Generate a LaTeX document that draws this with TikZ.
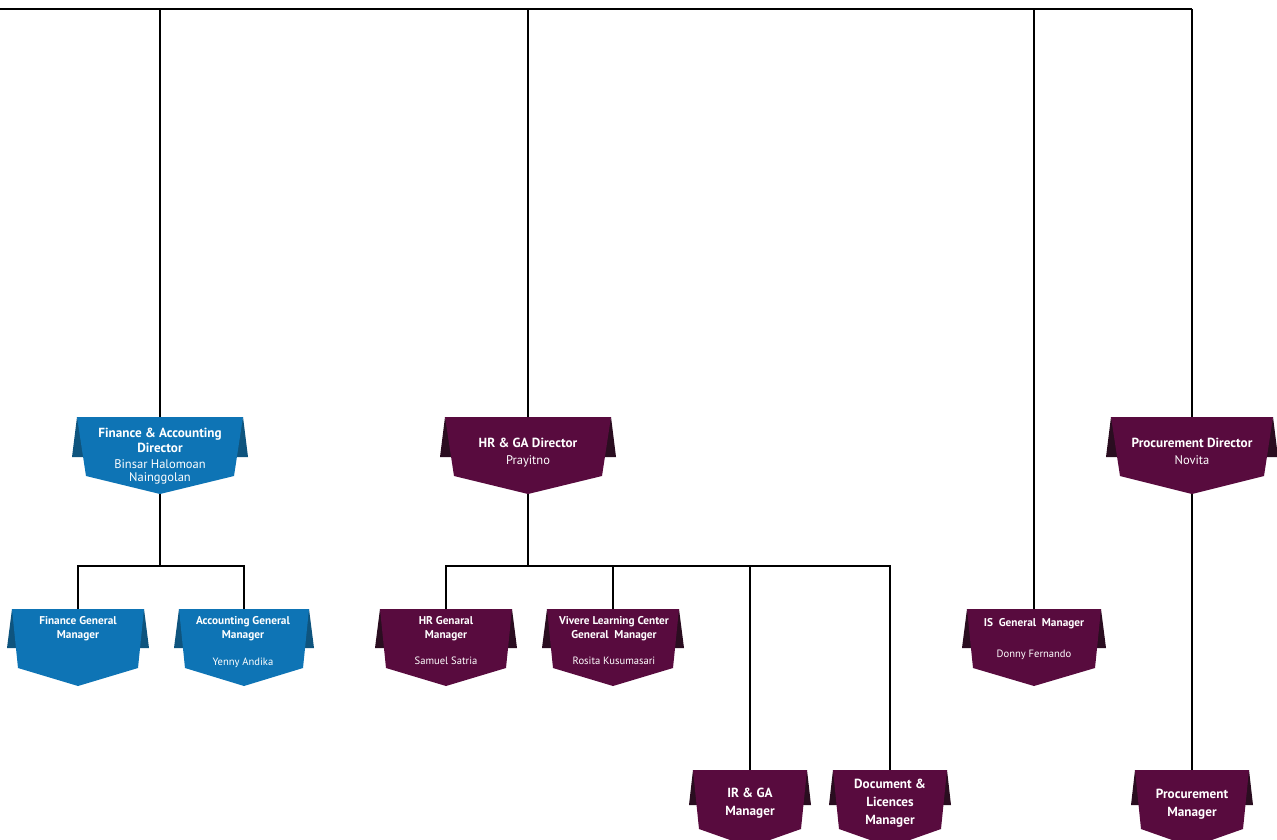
\documentclass[tikz,border=0pt]{standalone}
\usepackage{fontspec}
\setmainfont{PT Sans}
\definecolor{bluebody}{RGB}{14,116,181}
\definecolor{blueear}{RGB}{14,84,126}
\definecolor{purplebody}{RGB}{88,11,62}
\definecolor{purpleear}{RGB}{42,13,32}
% #1 name, #2 cx, #3 ytop, #4 half width, #5 inset, #6 fill, #7 ear, #8 ear out, #9 ear down
\newcommand{\orgshape}[9]{%
  \fill[#7] (#2-#4,#3) -- (#2-#4-#8,#3+#9) -- (#2-#4+10,#3+#9) -- cycle;
  \fill[#7] (#2+#4,#3) -- (#2+#4+#8,#3+#9) -- (#2+#4-10,#3+#9) -- cycle;
  \fill[#6] (#2-#4,#3) -- (#2+#4,#3) -- (#2+#4-#5,#3+59) -- (#2,#3+77) -- (#2-#4+#5,#3+59) -- cycle;
  \coordinate (#1-top) at (#2,#3);
  \coordinate (#1-bot) at (#2,#3+77);
}
\begin{document}
\begin{tikzpicture}[x=1pt,y=-1pt,
  conn/.style={draw=black,line width=1.6pt},
  dtitle/.style={anchor=north,inner sep=0pt,align=center,text=white,font=\bfseries\fontsize{13.2}{15}\selectfont},
  dname/.style={anchor=north,inner sep=0pt,align=center,text=white,font=\fontsize{12.5}{13}\selectfont},
  mtitle/.style={anchor=north,inner sep=0pt,align=center,text=white,font=\bfseries\fontsize{11.3}{14}\selectfont},
  mname/.style={anchor=north,inner sep=0pt,align=center,text=white,font=\fontsize{10.6}{13}\selectfont},
  btitle/.style={anchor=north,inner sep=0pt,align=center,text=white,font=\bfseries\fontsize{13.2}{18}\selectfont}]
\fill[white] (0,0) rectangle (1277,840);
\useasboundingbox (0,0) rectangle (1277,840);
\begin{scope}
\clip (0,0) rectangle (1277,840);
% connectors
\coordinate (topleft) at (0,9);
\coordinate (jfad) at (160,9);
\coordinate (jhrd) at (528,9);
\coordinate (jigm) at (1034,9);
\coordinate (jprd) at (1192,9);
\coordinate (famid) at (160,566);
\coordinate (hrmid) at (528,566);
% shapes
\orgshape{fad}{160}{417}{83}{9}{bluebody}{blueear}{5}{40}
\orgshape{hrd}{528}{417}{83}{9}{purplebody}{purpleear}{5}{40}
\orgshape{prd}{1192}{417}{81}{9}{purplebody}{purpleear}{5}{40}
\orgshape{fgm}{78}{609}{66}{6}{bluebody}{blueear}{5}{39}
\orgshape{agm}{244}{609}{65}{6}{bluebody}{blueear}{5}{39}
\orgshape{hgm}{446}{609}{66}{6}{purplebody}{purpleear}{5}{39}
\orgshape{vgm}{613}{609}{66}{6}{purplebody}{purpleear}{5}{39}
\orgshape{igm}{1034}{609}{67}{6}{purplebody}{purpleear}{5}{39}
\orgshape{ir}{750}{770}{57}{6}{purplebody}{purpleear}{4}{35}
\orgshape{doc}{890}{770}{57}{6}{purplebody}{purpleear}{4}{35}
\orgshape{pm}{1192}{770}{57}{6}{purplebody}{purpleear}{4}{35}
\draw[conn] (topleft) -- (jprd);
\draw[conn] (jfad) -- (fad-top);
\draw[conn] (jhrd) -- (hrd-top);
\draw[conn] (jigm) -- (igm-top);
\draw[conn] (jprd) -- (prd-top);
\draw[conn] (fad-bot) -- (famid);
\draw[conn] (fgm-top) |- (famid) -| (agm-top);
\draw[conn] (hrd-bot) -- (hrmid);
\draw[conn] (hgm-top) |- (hrmid) -| (doc-top);
\draw[conn] (vgm-top) -- (vgm-top |- hrmid);
\draw[conn] (ir-top) -- (ir-top |- hrmid);
\draw[conn] (prd-bot) -- (pm-top);
% texts
\node[dtitle] (fadt) at (160,427.5) {Finance \& Accounting\\Director};
\node[dname] (fadn) at (160,459) {Binsar Halomoan\\Nainggolan};
\node[dtitle] (hrdt) at (528,437.5) {HR \& GA Director};
\node[dname] (hrdn) at (528,455) {Prayitno};
\node[dtitle] (prdt) at (1192,437.5) {Procurement Director};
\node[dname] (prdn) at (1192,455) {Novita};
\node[mtitle] (fgmt) at (78,616) {Finance General\\Manager};
\node[mtitle] (agmt) at (243,616) {Accounting General\\Manager};
\node[mname] (agmn) at (243,657.5) {Yenny Andika};
\node[mtitle] (hgmt) at (446,616) {HR Genaral\\Manager};
\node[mname] (hgmn) at (446,656.5) {Samuel Satria};
\node[mtitle] (vgmt) at (614,616) {Vivere Learning Center\\General\ \ Manager};
\node[mname] (vgmn) at (614,656.5) {Rosita Kusumasari};
\node[mtitle] (igmt) at (1034,618) {IS\ \ General\ \ Manager};
\node[mname] (igmn) at (1034,649.5) {Donny Fernando};
\node[btitle] (irt) at (750,787.5) {IR \& GA\\Manager};
\node[btitle] (doct) at (890,778.5) {Document \&\\Licences\\Manager};
\node[btitle] (pmt) at (1192,788.5) {Procurement\\Manager};
\end{scope}
\end{tikzpicture}
\end{document}
